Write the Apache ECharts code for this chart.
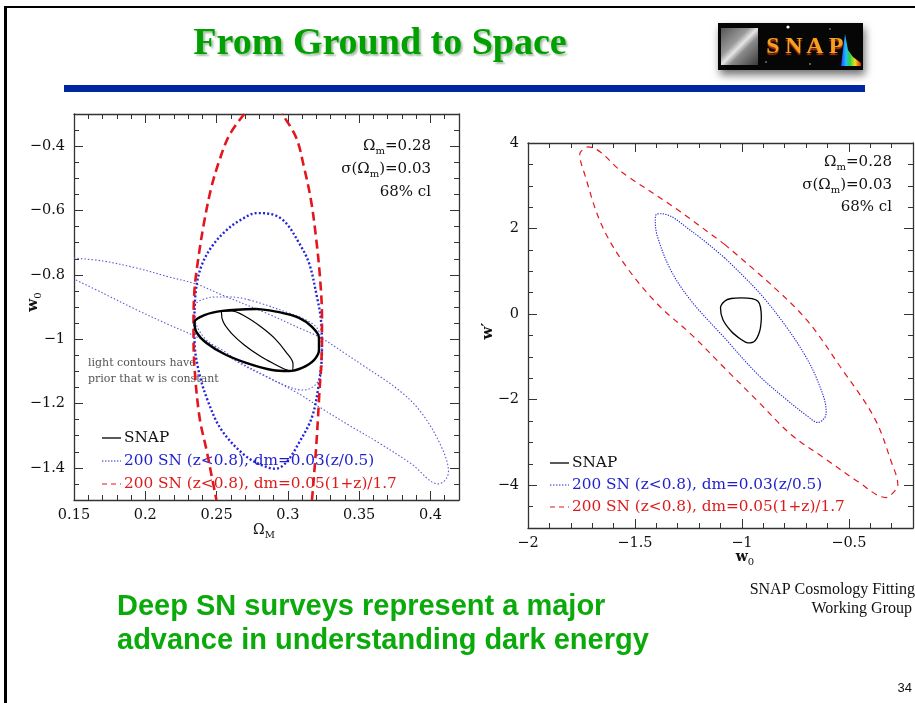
<!DOCTYPE html>
<html>
<head>
<meta charset="utf-8">
<script src="https://cdn.jsdelivr.net/npm/echarts@6/dist/echarts.min.js"></script>
<style>
html,body{margin:0;padding:0;background:#fff;}
#slide{width:915px;height:703px;}
</style>
</head>
<body>
<div id="slide"></div>
<script>
// ---- Left panel: Omega_M vs w0 (68% cl contours) ----
const leftXTicks = [0.15, 0.2, 0.25, 0.3, 0.35, 0.4];
const leftYTicks = [-1.4, -1.2, -1, -0.8, -0.6, -0.4];

// 200 SN, dm=0.05(1+z)/1.7 : two arcs, the contour runs past the frame
const omRedWest = [[0.2694,-0.300],[0.2589,-0.366],[0.2520,-0.444],[0.2464,-0.527],[0.2415,-0.630],[0.2373,-0.745],[0.2345,-0.847],[0.2338,-0.971],[0.2345,-1.086],[0.2380,-1.242],[0.2429,-1.344],[0.2464,-1.422],[0.2499,-1.500]];
const omRedEast = [[0.3169,-1.500],[0.3197,-1.344],[0.3218,-1.189],[0.3239,-1.003],[0.3239,-0.931],[0.3225,-0.807],[0.3197,-0.683],[0.3162,-0.568],[0.3113,-0.465],[0.3057,-0.372],[0.2959,-0.300]];
// 200 SN, dm=0.03(z/0.5)
const omBlue = [[0.2345,-0.909],[0.2360,-0.830],[0.2400,-0.765],[0.2470,-0.710],[0.2560,-0.665],[0.2659,-0.632],[0.2785,-0.608],[0.2904,-0.614],[0.2987,-0.639],[0.3078,-0.701],[0.3148,-0.763],[0.3204,-0.869],[0.3232,-0.940],[0.3239,-1.034],[0.3218,-1.136],[0.3169,-1.242],[0.3078,-1.322],[0.2987,-1.384],[0.2911,-1.403],[0.2813,-1.391],[0.2694,-1.360],[0.2534,-1.282],[0.2436,-1.189],[0.2373,-1.096],[0.2345,-1.002],[0.2345,-0.909]];
// SNAP
const omSnap = [[0.2778,-0.906],[0.2939,-0.916],[0.3078,-0.934],[0.3169,-0.962],[0.3218,-0.996],[0.3218,-1.034],[0.3183,-1.065],[0.3099,-1.089],[0.3008,-1.099],[0.2890,-1.096],[0.2729,-1.077],[0.2554,-1.046],[0.2429,-1.012],[0.2359,-0.978],[0.2345,-0.947],[0.2415,-0.925],[0.2541,-0.912],[0.2778,-0.906]];
// light contours: prior that w is constant
const omSnapConstW = [[0.2813,-0.962],[0.2904,-0.996],[0.2987,-1.040],[0.3036,-1.077],[0.3029,-1.099],[0.2994,-1.096],[0.2904,-1.077],[0.2813,-1.055],[0.2694,-1.018],[0.2603,-0.981],[0.2547,-0.947],[0.2534,-0.916],[0.2603,-0.912],[0.2708,-0.931],[0.2813,-0.962]];
const omBlueConstW = [[0.2729,-0.878],[0.2848,-0.894],[0.3008,-0.919],[0.3127,-0.940],[0.3204,-0.965],[0.3232,-1.002],[0.3239,-1.049],[0.3239,-1.096],[0.3204,-1.136],[0.3148,-1.155],[0.3099,-1.158],[0.2973,-1.142],[0.2848,-1.117],[0.2659,-1.074],[0.2520,-1.034],[0.2415,-0.996],[0.2359,-0.956],[0.2345,-0.916],[0.2359,-0.888],[0.2415,-0.875],[0.2485,-0.869],[0.2610,-0.869],[0.2729,-0.878]];
const omWideConstW = [[0.15,-0.748],[0.1703,-0.757],[0.1940,-0.779],[0.2170,-0.807],[0.2359,-0.829],[0.2541,-0.863],[0.2848,-0.919],[0.3078,-0.965],[0.3232,-0.996],[0.3427,-1.052],[0.3511,-1.077],[0.3777,-1.158],[0.3937,-1.229],[0.4077,-1.335],[0.4126,-1.412],[0.4105,-1.437],[0.4056,-1.450],[0.3867,-1.388],[0.3637,-1.322],[0.3427,-1.267],[0.3232,-1.214],[0.3078,-1.170],[0.2869,-1.120],[0.2659,-1.071],[0.2541,-1.034],[0.2331,-0.987],[0.2170,-0.956],[0.1940,-0.909],[0.1703,-0.857],[0.15,-0.813]];

// ---- Right panel: w0 vs w' ----
const rightXTicks = [-2, -1.5, -1, -0.5];
const rightYTicks = [-4, -2, 0, 2, 4];
const wRed = [[-1.081,1.630],[-0.847,0.614],[-0.692,-0.166],[-0.536,-1.260],[-0.380,-2.431],[-0.302,-3.445],[-0.271,-3.991],[-0.302,-4.225],[-0.325,-4.288],[-0.458,-3.913],[-0.614,-3.368],[-0.769,-2.820],[-0.925,-2.040],[-1.081,-1.260],[-1.236,-0.478],[-1.393,0.225],[-1.548,1.162],[-1.657,2.098],[-1.735,3.269],[-1.758,3.738],[-1.750,3.815],[-1.720,3.909],[-1.548,3.269],[-1.314,2.487],[-1.081,1.630]];
const wBlue = [[-1.081,1.316],[-0.925,0.536],[-0.800,-0.244],[-0.707,-0.946],[-0.645,-1.571],[-0.606,-2.274],[-0.614,-2.431],[-0.645,-2.532],[-0.692,-2.391],[-0.800,-1.963],[-0.925,-1.415],[-1.081,-0.557],[-1.236,0.302],[-1.330,1.005],[-1.393,1.785],[-1.405,2.176],[-1.400,2.333],[-1.377,2.347],[-1.236,1.941],[-1.081,1.316]];
const wSnap = [[-0.909,-0.089],[-0.917,-0.400],[-0.941,-0.635],[-0.972,-0.674],[-1.003,-0.595],[-1.050,-0.400],[-1.089,-0.126],[-1.100,0.145],[-1.081,0.302],[-1.050,0.365],[-1.003,0.379],[-0.925,0.302],[-0.909,-0.089]];

// legend / annotation texts
const legendNames = ['SNAP', '200 SN (z<0.8), dm=0.03(z/0.5)', '200 SN (z<0.8), dm=0.05(1+z)/1.7'];
const priorNote = ['light contours have', 'prior that w is constant'];

const RED = '#E3161E', BLUE = '#2424D6', BLUE_LIGHT = '#5A5ADC', BLUE_TXT = '#1E1ECC', RED_TXT = '#DD1A1A';
const FRAME = '#333';
const PLOT_FONT = '"DejaVu Serif", serif';

const fmt = v => (v < 0 ? '\u2212' + String(-v) : String(v));

// one side of a panel frame: labelled major ticks + short minor ticks
function axisPair(gridIndex, pos, min, max, ticks, minorStep, showLabel, labelMargin) {
  const major = {
    type: 'value', gridIndex, position: pos, min, max,
    axisLine: { show: true, onZero: false, lineStyle: { color: FRAME, width: 1.3 } },
    axisTick: { show: true, inside: true, length: 9, customValues: ticks, lineStyle: { color: FRAME, width: 1 } },
    axisLabel: { show: showLabel, customValues: ticks, formatter: fmt, margin: labelMargin,
      fontFamily: PLOT_FONT, fontSize: 14.5, color: '#111' },
    splitLine: { show: false }
  };
  const minor = {
    type: 'value', gridIndex, position: pos, min, max, interval: minorStep,
    axisLine: { show: false, onZero: false },
    axisTick: { show: true, inside: true, length: 5, lineStyle: { color: FRAME, width: 1 } },
    axisLabel: { show: false }, splitLine: { show: false }
  };
  return [major, minor];
}

const xAxes = [
  ...axisPair(0, 'bottom', 0.15, 0.42, leftXTicks, 0.01, true, 8),
  ...axisPair(0, 'top', 0.15, 0.42, leftXTicks, 0.01, false, 8),
  ...axisPair(1, 'bottom', -2, -0.2, rightXTicks, 0.1, true, 8),
  ...axisPair(1, 'top', -2, -0.2, rightXTicks, 0.1, false, 8)
];
const yAxes = [
  ...axisPair(0, 'left', -1.5, -0.3, leftYTicks, 0.05, true, 9),
  ...axisPair(0, 'right', -1.5, -0.3, leftYTicks, 0.05, false, 9),
  ...axisPair(1, 'left', -5, 4, rightYTicks, 0.5, true, 9),
  ...axisPair(1, 'right', -5, 4, rightYTicks, 0.5, false, 9)
];

function contour(name, data, panel, style) {
  return {
    name, type: 'line', data, xAxisIndex: panel * 4, yAxisIndex: panel * 4,
    symbol: 'none', smooth: 0.35, clip: true, silent: true,
    lineStyle: Object.assign({ cap: 'butt', join: 'round' }, style)
  };
}

const series = [
  contour('wide-constw', omWideConstW, 0, { color: BLUE_LIGHT, width: 1.1, type: [1.5, 2] }),
  contour('blue-constw', omBlueConstW, 0, { color: BLUE_LIGHT, width: 1.1, type: [1.5, 2] }),
  contour('blue', omBlue, 0, { color: BLUE, width: 2.4, type: [2, 2.2] }),
  contour('red-w', omRedWest, 0, { color: RED, width: 2.6, type: [9, 5] }),
  contour('red-e', omRedEast, 0, { color: RED, width: 2.6, type: [9, 5] }),
  contour('snap-constw', omSnapConstW, 0, { color: '#000', width: 1.2 }),
  contour('snap', omSnap, 0, { color: '#000', width: 2.4 }),
  contour('w-red', wRed, 1, { color: RED, width: 1.2, type: [6, 5] }),
  contour('w-blue', wBlue, 1, { color: BLUE, width: 1.1, type: [1.3, 1.3] }),
  contour('w-snap', wSnap, 1, { color: '#000', width: 1.3 })
];

const subRich = {
  s: { fontSize: 10, fontFamily: PLOT_FONT, lineHeight: 10, verticalAlign: 'bottom' }
};
function plotText(text, x, y, opts) {
  return {
    type: 'text', x, y, silent: true,
    rotation: (opts && opts.rotation) || 0,
    style: Object.assign({
      text, fontFamily: PLOT_FONT, fontSize: 15, lineHeight: 20, fill: '#111',
      align: 'left', verticalAlign: 'middle', rich: subRich
    }, opts && opts.style)
  };
}
function legendBlock(x0, y0, gap) {
  const ls = [
    { stroke: '#000', lineWidth: 1.3 },
    { stroke: BLUE, lineWidth: 1.2, lineDash: [1.4, 1.6] },
    { stroke: RED, lineWidth: 1.2, lineDash: [5, 4] }
  ];
  const cols = ['#111', BLUE_TXT, RED_TXT];
  const out = [];
  legendNames.forEach((t, i) => {
    const y = y0 + i * gap;
    out.push({ type: 'line', silent: true, shape: { x1: x0, y1: y, x2: x0 + 19, y2: y }, style: ls[i] });
    out.push(plotText(t, x0 + 22, y, { style: { fill: cols[i], fontSize: 15.3 } }));
  });
  return out;
}

const graphics = [
  // slide frame
  { type: 'rect', silent: true, shape: { x: 4, y: 6, width: 911, height: 2 }, style: { fill: '#000' } },
  { type: 'rect', silent: true, shape: { x: 4, y: 6, width: 3, height: 697 }, style: { fill: '#000' } },
  // title
  { type: 'text', silent: true, x: 380, y: 44, style: {
      text: 'From Ground to Space', font: 'bold 38px "Liberation Serif", serif', fill: '#00A000',
      align: 'center', verticalAlign: 'middle',
      textShadowColor: 'rgba(0,70,0,0.35)', textShadowOffsetX: 2, textShadowOffsetY: 2, textShadowBlur: 2 } },
  // rule under title
  { type: 'rect', silent: true, shape: { x: 64, y: 85, width: 801, height: 7 }, style: { fill: '#0026A0' } },
  // SNAP logo
  { type: 'rect', silent: true, shape: { x: 718, y: 23, width: 145, height: 47 },
    style: { fill: '#060606', shadowBlur: 8, shadowColor: 'rgba(0,0,0,0.55)', shadowOffsetY: 5, shadowOffsetX: 2 } },
  { type: 'rect', silent: true, shape: { x: 721, y: 28, width: 37, height: 37 },
    style: { fill: new echarts.graphic.LinearGradient(0, 0, 1, 1, [
      { offset: 0, color: '#555' }, { offset: 0.38, color: '#9a9a9a' }, { offset: 0.5, color: '#e6e6e6' },
      { offset: 0.62, color: '#8a8a8a' }, { offset: 1, color: '#3a3a3a' }]) } },
  { type: 'circle', silent: true, shape: { cx: 788, cy: 27, r: 1.6 }, style: { fill: '#fff' } },
  { type: 'circle', silent: true, shape: { cx: 810, cy: 64, r: 0.8 }, style: { fill: '#ccc' } },
  { type: 'circle', silent: true, shape: { cx: 766, cy: 62, r: 0.8 }, style: { fill: '#bbb' } },
  { type: 'circle', silent: true, shape: { cx: 830, cy: 29, r: 0.7 }, style: { fill: '#ccc' } },
  ...['S', 'N', 'A', 'P'].map((ch, i) => ({
    type: 'text', silent: true, x: 773 + i * 21, y: 47, style: {
      text: ch, font: 'bold 24px "Liberation Serif", serif', align: 'center', verticalAlign: 'middle',
      fill: '#F5A01E', textShadowColor: 'rgba(220,60,20,0.8)', textShadowOffsetY: 1.5, textShadowBlur: 1 } })),
  { type: 'polygon', silent: true, shape: { points: [[841, 66], [845, 34], [848, 50], [853, 57], [861, 63], [861, 66]] },
    style: { fill: new echarts.graphic.LinearGradient(0, 0, 1, 0, [
      { offset: 0, color: '#2040FF' }, { offset: 0.25, color: '#20C0FF' }, { offset: 0.45, color: '#30D040' },
      { offset: 0.7, color: '#F0E020' }, { offset: 1, color: '#E02010' }]) } },

  // left panel annotations
  plotText('\u03A9{s|m}=0.28', 431, 146, { style: { align: 'right' } }),
  plotText('\u03C3(\u03A9{s|m})=0.03', 431, 169, { style: { align: 'right' } }),
  plotText('68% cl', 431, 192, { style: { align: 'right' } }),
  plotText(priorNote[0], 88, 363, { style: { fontSize: 11, fill: '#555', lineHeight: 14 } }),
  plotText(priorNote[1], 88, 379, { style: { fontSize: 11, fill: '#555', lineHeight: 14 } }),
  ...legendBlock(102, 438, 23),
  plotText('\u03A9{s|M}', 264, 530, { style: { align: 'center', fontSize: 14 } }),
  plotText('w{s|0}', 33, 302, { rotation: Math.PI / 2, style: { align: 'center', fontSize: 15, fontWeight: 'bold' } }),

  // right panel annotations
  plotText('\u03A9{s|m}=0.28', 892, 162, { style: { align: 'right' } }),
  plotText('\u03C3(\u03A9{s|m})=0.03', 892, 185, { style: { align: 'right' } }),
  plotText('68% cl', 892, 207, { style: { align: 'right' } }),
  ...legendBlock(550, 463, 22),
  plotText('w{s|0}', 745, 557, { style: { align: 'center', fontSize: 14, fontWeight: 'bold' } }),
  plotText('w\u2032', 488, 331, { rotation: Math.PI / 2, style: { align: 'center', fontSize: 15, fontWeight: 'bold' } }),

  // conclusion and credits
  { type: 'text', silent: true, x: 117, y: 607, style: {
      text: 'Deep SN surveys represent a major', font: 'bold 29px "Liberation Sans", Arial, sans-serif',
      fill: '#0AAA0A', align: 'left', verticalAlign: 'middle' } },
  { type: 'text', silent: true, x: 117, y: 641, style: {
      text: 'advance in understanding dark energy', font: 'bold 29px "Liberation Sans", Arial, sans-serif',
      fill: '#0AAA0A', align: 'left', verticalAlign: 'middle' } },
  { type: 'text', silent: true, x: 915, y: 590, style: {
      text: 'SNAP Cosmology Fitting', font: '16px "Liberation Serif", serif', fill: '#111',
      align: 'right', verticalAlign: 'middle' } },
  { type: 'text', silent: true, x: 912, y: 609, style: {
      text: 'Working Group', font: '16px "Liberation Serif", serif', fill: '#111',
      align: 'right', verticalAlign: 'middle' } },
  { type: 'text', silent: true, x: 912, y: 688, style: {
      text: '34', font: '13px "Liberation Sans", Arial, sans-serif', fill: '#111',
      align: 'right', verticalAlign: 'middle' } }
];

const chart = echarts.init(document.getElementById('slide'), null, { renderer: 'canvas' });
chart.setOption({
  animation: false,
  backgroundColor: '#fff',
  grid: [
    { left: 74, top: 114, width: 385, height: 386, containLabel: false },
    { left: 528, top: 143, width: 385, height: 385, containLabel: false }
  ],
  xAxis: xAxes,
  yAxis: yAxes,
  series,
  graphic: graphics
});
</script>
</body>
</html>
